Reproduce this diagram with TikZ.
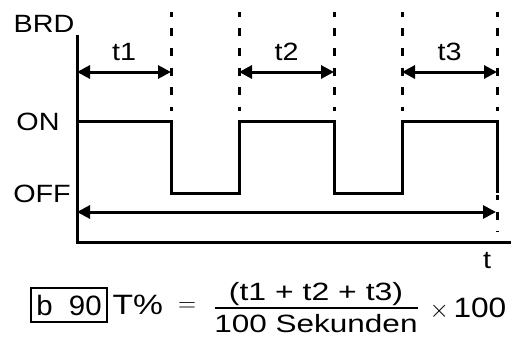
\documentclass[tikz,border=0pt]{standalone}
\usepackage{fontspec}
\setmainfont{Liberation Sans}
\usetikzlibrary{arrows.meta}
\newcommand{\xs}[2]{\scalebox{#1}[1]{#2}}

\begin{document}
\begin{tikzpicture}[x=1pt,y=-1pt,>={Triangle[length=13pt,width=13pt]},line width=3pt,
    lbl/.style={inner sep=0pt,anchor=base,font=\fontsize{25}{30}\selectfont},
    frm/.style={inner sep=0pt,font=\fontsize{28}{32}\selectfont},
    guide/.style={dash pattern=on 8pt off 11.5pt,dash phase=3pt}]
  \useasboundingbox (0,0) rectangle (513,345);
  % axes
  \coordinate (org) at (77,242);
  \draw (77,35) -- (org) -- (511,242);
  % signal edges
  \foreach \x [count=\i] in {171,239,334,402,497}
    \coordinate (e\i) at (\x,72);
  \foreach \x in {171,239,334,402,497}
    \draw[guide] (\x,12) -- (\x,111);
  \draw[guide] (497,195) -- (497,232);
  % BRD signal
  \draw (76,121) -| (171,193) -| (239,121) -| (334,193) -| (402,121) -| (497,193);
  % durations
  \draw[<->] (77,72) -- (e1) node[lbl,midway,above=10pt,anchor=south] (t1) {\xs{1.15}{t1}};
  \draw[<->] (e2) -- (e3) node[lbl,midway,above=10pt,anchor=south] (t2) {\xs{1.15}{t2}};
  \draw[<->] (e4) -- (e5) node[lbl,midway,above=10pt,anchor=south] (t3) {\xs{1.15}{t3}};
  \draw[<->] (77,212) -- (496,212);
  % labels
  \node[lbl] (brd) at (44,33) {\xs{1.15}{BRD}};
  \node[lbl] (on) at (38,130) {\xs{1.15}{ON}};
  \node[lbl] (off) at (42,202) {\xs{1.15}{OFF}};
  \node[lbl] (tax) at (487,268) {\xs{1.15}{t}};
  % formula
  \node[frm,draw,line width=2pt,minimum width=76pt,minimum height=34pt] (bx) at (69,305) {\xs{1.05}{b\ \ 90}};
  \node[frm,anchor=base west] (tp) at (111,314) {\xs{1.2}{T\%}};
  \node[frm] (eq) at (187,307) {$=$};
  \node[lbl] (num) at (316,300) {\xs{1.28}{(t1 + t2 + t3)}};
  \node[lbl] (den) at (316,332) {\xs{1.26}{100 Sekunden}};
  \draw[line width=2pt] (215,308) -- (418,308);
  \node[frm,anchor=base west] (x100) at (428,317) {$\times$\,\xs{1.13}{100}};
\end{tikzpicture}
\end{document}
